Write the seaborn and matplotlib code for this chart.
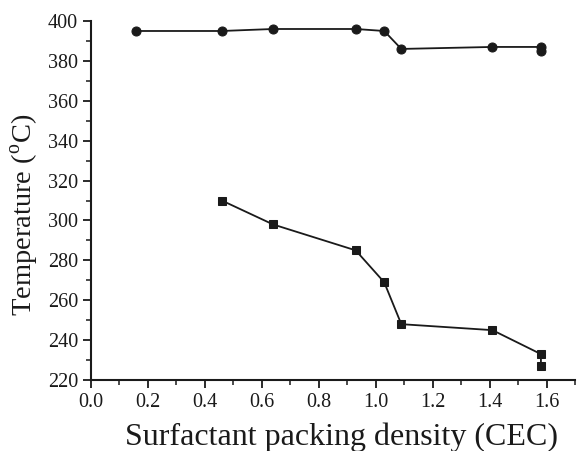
import numpy as np
import pandas as pd
import matplotlib
matplotlib.use("Agg")
import matplotlib.pyplot as plt
import seaborn as sns
from matplotlib.ticker import MultipleLocator

# upper series (circles)
x_circle = [0.16, 0.46, 0.64, 0.93, 1.03, 1.09, 1.41, 1.58, 1.58]
t_circle = [395, 395, 396, 396, 395, 386, 387, 387, 385]

# lower series (squares)
x_square = [0.46, 0.64, 0.93, 1.03, 1.09, 1.41, 1.58, 1.58]
t_square = [310, 298, 285, 269, 248, 245, 233, 227]

sns.set_style("ticks")
plt.rcParams["font.family"] = ["Liberation Serif", "DejaVu Serif"]
plt.rcParams["mathtext.fontset"] = "custom"
plt.rcParams["mathtext.rm"] = "Liberation Serif"

fig = plt.figure(figsize=(5.78, 4.51), dpi=100)
ax = fig.add_axes([0.157, 0.1574, 0.838, 0.796])

df_c = pd.DataFrame({"x": x_circle, "t": t_circle})
df_s = pd.DataFrame({"x": x_square, "t": t_square})

sns.lineplot(data=df_c, x="x", y="t", ax=ax, estimator=None, sort=False,
             color="#1a1a1a", lw=1.3, marker="o", markersize=6.5,
             markeredgecolor="#1a1a1a")
sns.lineplot(data=df_s, x="x", y="t", ax=ax, estimator=None, sort=False,
             color="#1a1a1a", lw=1.3, marker="s", markersize=6,
             markeredgecolor="#1a1a1a")

ax.set_xlim(0, 1.7)
ax.set_ylim(220, 400)
ax.xaxis.set_major_locator(MultipleLocator(0.2))
ax.xaxis.set_minor_locator(MultipleLocator(0.1))
ax.yaxis.set_major_locator(MultipleLocator(20))
ax.yaxis.set_minor_locator(MultipleLocator(10))
ax.set_xticklabels([f"{v:.1f}" for v in ax.get_xticks()])

for s in ["top", "right"]:
    ax.spines[s].set_visible(False)
for s in ["left", "bottom"]:
    ax.spines[s].set_linewidth(1.5)
    ax.spines[s].set_color("#1a1a1a")

ax.tick_params(which="major", direction="out", length=6, width=1.3,
               labelsize=14.5, colors="#1a1a1a", pad=3)
ax.tick_params(which="minor", direction="out", length=3.5, width=1.1,
               colors="#1a1a1a")

ax.set_xlabel("Surfactant packing density (CEC)", fontsize=23,
              color="#1a1a1a")
ax.xaxis.set_label_coords(0.517, -0.117)
ax.set_ylabel(r"Temperature ($^{\rm o}$C)", fontsize=20.5,
              color="#1a1a1a")
# label sits a little below the axis centre in the original
ax.yaxis.set_label_coords(-0.102, 0.46)

fig.savefig("out.png", dpi=100)
